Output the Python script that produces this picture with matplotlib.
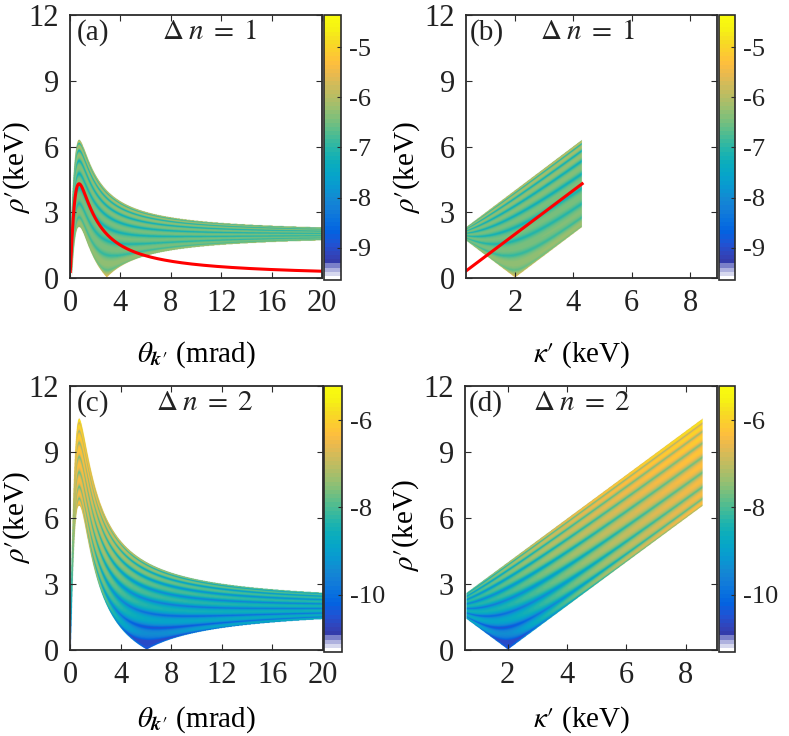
import numpy as np
import matplotlib
matplotlib.use('Agg')
import matplotlib.pyplot as plt
from matplotlib.colors import ListedColormap, LinearSegmentedColormap

plt.rcParams['font.family'] = ['Liberation Serif', 'DejaVu Serif']
plt.rcParams['mathtext.fontset'] = 'stix'
plt.rcParams['axes.unicode_minus'] = False

# ---------------- values ----------------
harmonics = [1, 2]                      # Delta n of the two rows
panel_tags = [['(a)', '(b)'], ['(c)', '(d)']]
kappa_peak = [4.3, 8.55]                # keV, largest kappa' per harmonic
theta_peak = 0.72                       # mrad, angle of the kappa' maximum
theta_span = [0.025, 20.0]              # mrad
Q = 2.0                                 # keV, half width of the rho' band
stripe_count = [9, 9]
base_level = [-6.4, -7.95]
rho_slope = [0.2, 3.6]
edge_weight = [0.8, 0.75]
stripe_depth = [1.0, 1.15]
upper_bias = [0.6, 0.0]                 # stripes stronger near the upper edge
clims = [[-9.64, -4.36], [-11.31, -5.22]]
cticks = [[-5, -6, -7, -8, -9], [-6, -8, -10]]
theta_ticks = [0, 4, 8, 12, 16, 20]
kappa_ticks = [2, 4, 6, 8]
rho_ticks = [0, 3, 6, 9, 12]
kappa_xlim = [[0.32, 8.92], [0.56, 9.05]]

# parula-like colour anchors
parula_anchors = [
    (0.2081, 0.1663, 0.5292), (0.2123, 0.2138, 0.6270), (0.1959, 0.2645, 0.7279),
    (0.1253, 0.3242, 0.8303), (0.0117, 0.3875, 0.8820), (0.0329, 0.4430, 0.8720),
    (0.0723, 0.4887, 0.8467), (0.0749, 0.5375, 0.8263), (0.0343, 0.5966, 0.8199),
    (0.0231, 0.6418, 0.7913), (0.0384, 0.6743, 0.7436), (0.1133, 0.7015, 0.6859),
    (0.2178, 0.7250, 0.6193), (0.3482, 0.7424, 0.5473), (0.4871, 0.7491, 0.4840),
    (0.6099, 0.7473, 0.4337), (0.7184, 0.7411, 0.3905), (0.8185, 0.7327, 0.3498),
    (0.9139, 0.7258, 0.3063), (0.9938, 0.7455, 0.2403), (0.9880, 0.8066, 0.1794),
    (0.9626, 0.8705, 0.1309), (0.9661, 0.9514, 0.0755), (0.9763, 0.9831, 0.0538)]

base_cmap = LinearSegmentedColormap.from_list('par', parula_anchors, N=256)
cols = base_cmap(np.linspace(0, 1, 64))
first = cols[4].copy()
for i, w in enumerate([1.0, 0.8, 0.6, 0.35]):
    cols[i, :3] = w * np.ones(3) + (1 - w) * first[:3]
cmap = ListedColormap(cols)
cmap.set_bad((1, 1, 1, 0))

GRAY = '#2b2b2b'


def kappa_of_theta(theta, h):
    kmax = kappa_peak[h]
    K = 2 * kmax / theta_peak
    return K * theta / (1 + (theta / theta_peak) ** 2)


def field(kap, rho, h):
    c = (kap ** 2 + Q ** 2 - rho ** 2) / (2 * kap * Q)
    inside = np.abs(c) <= 1
    c = np.clip(c, -1, 1)
    phi = np.arccos(c)
    s = np.sin(phi)
    up = (1 - c) / 2
    edge = -edge_weight[h] * np.log10(s + 0.004)
    g = 0.06 + 0.94 * np.cos(stripe_count[h] * phi) ** 2
    amp = (1 - upper_bias[h]) + upper_bias[h] * up
    stripes = stripe_depth[h] * amp * np.log10(g)
    base = base_level[h] + rho_slope[h] * np.log10((rho + 0.25) / 3.0)
    base = base + 0.5 * upper_bias[h] * (up - 0.6)
    val = base + edge + stripes
    val = np.maximum(val, clims[h][0] + 0.75)
    return np.where(inside, val, np.nan)


W, H = 789, 736
fig = plt.figure(figsize=(W / 100, H / 100), dpi=100)


def frac(x0, x1, ytop, ybot):
    return [x0 / W, 1 - ybot / H, (x1 - x0) / W, (ybot - ytop) / H]


ax_boxes = [[frac(70, 322, 15, 278), frac(466, 717, 15, 278)],
            [frac(70, 323, 386, 650), frac(465, 717, 386, 650)]]
cb_boxes = [[frac(323.5, 340.5, 15, 280), frac(719, 735, 15, 280)],
            [frac(324, 342, 386, 652), frac(719, 735, 386, 652)]]
tag_x = [[0.028, 0.016], [0.028, 0.016]]
dn_x = [[0.555, 0.484], [0.534, 0.464]]
ylab_pos = [[(-0.15, 0.42), (-0.175, 0.42)], [(-0.15, 0.50), (-0.175, 0.47)]]
xlab_pos = [[(0.5, -0.232), (0.46, -0.232)], [(0.5, -0.205), (0.464, -0.205)]]

rho_grid = np.linspace(0, 12, 600)

for r, h in enumerate([0, 1]):
    for col in range(2):
        ax = fig.add_axes(ax_boxes[r][col])
        cax = fig.add_axes(cb_boxes[r][col])
        vmin, vmax = clims[h]
        if col == 0:
            th = np.linspace(0, 20, 1500)
            kap = kappa_of_theta(th, h)
            TT, RR = np.meshgrid(th, rho_grid)
            KK = np.broadcast_to(kap, TT.shape)
            Z = field(KK, RR, h)
            Z[:, th < theta_span[0]] = np.nan
            im = ax.imshow(Z, origin='lower', extent=[0, 20, 0, 12], aspect='auto',
                           cmap=cmap, vmin=vmin, vmax=vmax, interpolation='antialiased')
            thl = np.linspace(theta_span[0], theta_span[1], 2000)
            if h == 0:
                ax.plot(thl, kappa_of_theta(thl, h), color='red', lw=2.2)
            ax.set_xlim(0, 20)
            ax.set_xticks(theta_ticks)
            ax.set_xlabel(r"$\theta_{\mathbfit{k}\prime}$ (mrad)", fontsize=21)
        else:
            x0, x1 = kappa_xlim[h]
            kmin = kappa_of_theta(theta_span[0], h)
            kk = np.linspace(x0, x1, 800)
            KK, RR = np.meshgrid(kk, rho_grid)
            Z = field(KK, RR, h)
            Z[:, (kk < kmin) | (kk > kappa_peak[h])] = np.nan
            im = ax.imshow(Z, origin='lower', extent=[x0, x1, 0, 12], aspect='auto',
                           cmap=cmap, vmin=vmin, vmax=vmax, interpolation='antialiased')
            if h == 0:
                kl = np.linspace(kmin, kappa_peak[h], 200)
                ax.plot(kl, kl, color='red', lw=2.2)
            ax.set_xlim(x0, x1)
            ax.set_xticks(kappa_ticks)
            ax.set_xlabel(r"$\kappa\prime$ (keV)", fontsize=21)
        ax.set_ylim(0, 12)
        ax.set_yticks(rho_ticks)
        ax.set_ylabel(r"$\rho\prime$(keV)", fontsize=21)
        ax.yaxis.set_label_coords(*ylab_pos[r][col])
        ax.xaxis.set_label_coords(*xlab_pos[r][col])
        ax.tick_params(direction='in', length=4, width=0.8, colors=GRAY, labelcolor='#222222',
                       labelsize=22, top=True, right=True, pad=8)
        for sp in ax.spines.values():
            sp.set_color(GRAY)
            sp.set_linewidth(1.3)
        ax.text(tag_x[r][col], 0.935, panel_tags[r][col], transform=ax.transAxes,
                fontsize=21, ha='left', va='center', color='#222222')
        ax.text(dn_x[r][col], 0.935, r"$\Delta\;n\;=\;%d$" % harmonics[h], transform=ax.transAxes,
                fontsize=21, ha='center', va='center', color='#222222')

        cb = fig.colorbar(im, cax=cax, ticks=cticks[h])
        cb.ax.set_yticklabels([str(t) for t in cticks[h]])
        cb.ax.tick_params(direction='in', length=3, width=0.8, colors=GRAY,
                          labelcolor='#222222', labelsize=19, pad=6)
        cb.outline.set_edgecolor(GRAY)
        cb.outline.set_linewidth(1.2)

fig.savefig('out.png', dpi=100)
